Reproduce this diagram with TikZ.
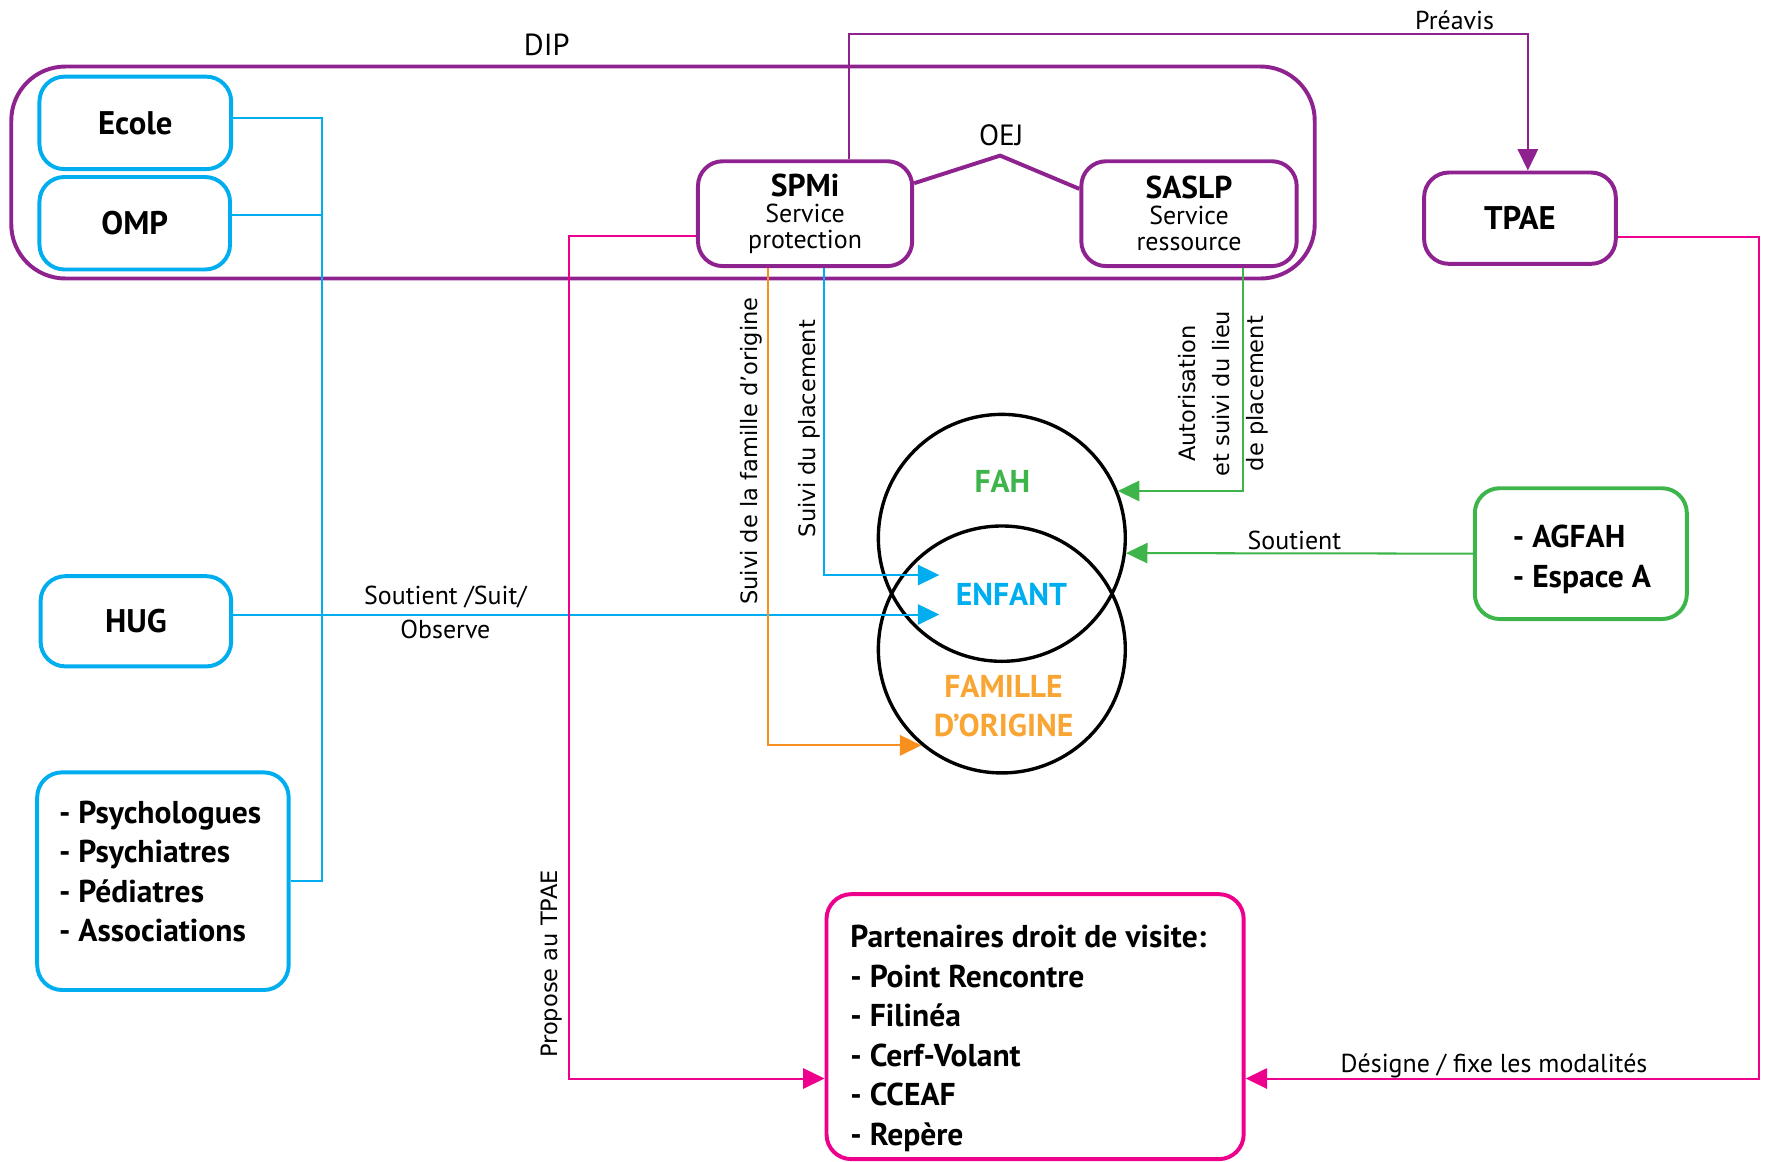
\documentclass[tikz,border=0pt]{standalone}
\usepackage{fontspec}
\setmainfont{PT Sans}
\newfontfamily\rotfont{DejaVu Sans}
\usetikzlibrary{arrows.meta}
\definecolor{dipblue}{HTML}{00AEEF}
\definecolor{dippurple}{HTML}{8E2390}
\definecolor{dippink}{HTML}{EC008C}
\definecolor{dipgreen}{HTML}{3DB54A}
\definecolor{diporange}{HTML}{F7901E}
\definecolor{famorange}{HTML}{F9A533}
\tikzstyle{box}=[draw, line width=3.5pt, rounded corners=22pt, inner sep=0pt, align=center, font=\fontsize{29}{34}\selectfont\bfseries]
\tikzstyle{service box}=[box, draw=dippurple, font=\fontsize{23}{23}\selectfont]
\tikzstyle{list}=[inner sep=0pt, align=left, font=\fontsize{28}{35}\selectfont\bfseries]
\tikzstyle{circle set}=[draw, circle, line width=3pt, minimum size=219pt, inner sep=0pt]
\tikzstyle{set name}=[font=\fontsize{28}{35}\selectfont\bfseries, align=center]
\tikzstyle{wire}=[line width=1.8pt]
\tikzstyle{link}=[wire, -{Triangle[length=19pt,width=18pt]}]
\tikzstyle{tag}=[font=\fontsize{23}{30}\selectfont, inner sep=0pt, align=center]
\tikzstyle{side tag}=[font=\rotfont\fontsize{20}{30}\selectfont, rotate=90, inner sep=0pt, align=center]

\begin{document}
\begin{tikzpicture}[x=1pt, y=-1pt]
      \useasboundingbox (0,0) rectangle (1568,1030);
      % DIP frame
      \node[draw=dippurple, line width=3.5pt, rounded corners=48pt, minimum width=1156pt, minimum height=188pt] (dip) at (588,153) {};
      \node[tag, font=\fontsize{27}{30}\selectfont] (diptag) at (485,40) {DIP};
      % boxes
      \node[box, draw=dipblue, minimum width=170pt, minimum height=82pt] (ecole) at (120,109) {Ecole};
      \node[box, draw=dipblue, minimum width=169pt, minimum height=82pt] (omp) at (119.5,198) {OMP};
      \node[box, draw=dipblue, minimum width=169pt, minimum height=80pt] (hug) at (120.5,551) {HUG};
      \node[box, draw=dipblue, minimum width=223pt, minimum height=193pt] (psy) at (144.5,781.5) {};
      \node[list] (psylist) at (142,773) {- Psychologues\\- Psychiatres\\- Pédiatres\\- Associations};
      \node[service box, minimum width=190pt, minimum height=93pt] (spmi) at (714,189.5)
        {\textbf{\fontsize{28}{28}\selectfont SPMi}\\Service\\protection};
      \node[service box, minimum width=191pt, minimum height=93pt] (saslp) at (1054.5,189.5)
        {\textbf{\fontsize{28}{28}\selectfont SASLP}\\Service\\ressource};
      \node[box, draw=dippurple, minimum width=170pt, minimum height=81pt] (tpae) at (1348,193.5) {TPAE};
      \node[box, draw=dipgreen, minimum width=188pt, minimum height=116pt] (agfah) at (1402,491) {};
      \node[list] (agfahlist) at (1403,496) {- AGFAH\\- Espace A};
      \node[box, draw=dippink, minimum width=370pt, minimum height=235pt] (part) at (918,910.5) {};
      \node[list] (partlist) at (912,921) {Partenaires droit de visite:\\- Point Rencontre\\- Filinéa\\- Cerf-Volant\\- CCEAF\\- Repère};
      % sets
      \node[circle set] (fah) at (888.5,477) {};
      \node[circle set] (famille) at (888.5,576) {};
      \node[set name, text=dipgreen] (fahtag) at (889,427) {FAH};
      \node[set name, text=dipblue] (enfant) at (897,527) {ENFANT};
      \node[set name, text=famorange] (origine) at (890,626) {FAMILLE\\D’ORIGINE};
      \coordinate (suiviin) at (833,510);
      \coordinate (hugin) at (833,545);
      \coordinate (bus) at (286,0);
      \coordinate (oej) at (887,138);
      \coordinate (preavis) at (1000,30);
      \coordinate (propose) at (505,600);
      \coordinate (designe) at (1560,600);
      % OEJ
      \draw[dippurple, line width=3.5pt] ([yshift=27pt]spmi.east) -- (oej) -- ([yshift=22pt]saslp.west);
      \node[tag, font=\fontsize{26}{30}\selectfont] (oejtag) at (888,120) {OEJ};
      % blue links
      \draw[wire, dipblue] ([yshift=4pt]ecole.east) -- ([yshift=4pt]ecole.east -| bus) -- (psy.east -| bus) -- (psy.east);
      \draw[wire, dipblue] ([yshift=7pt]omp.east) -- ([yshift=7pt]omp.east -| bus);
      \draw[link, dipblue] (hug.east |- hugin) -- (hugin);
      \node[tag] (hugtag) at (395,543) {Soutient /Suit/\\Observe};
      \draw[link, dipblue] ([xshift=17pt]spmi.south) |- (suiviin);
      \node[side tag] (placementtag) at (718,380) {Suivi du placement};
      % orange
      \draw[link, diporange] ([xshift=-33pt]spmi.south) |- (famille.230);
      \node[side tag] (familletag) at (666,400) {Suivi de la famille d’origine};
      % green
      \draw[link, dipgreen] ([xshift=47.5pt]saslp.south) |- (fah.22.5);
      \node[side tag] (lieutag) at (1085,349) {Autorisation\\et suivi du lieu\\de placement};
      \draw[link, dipgreen] (agfah.west) -- (fah.-7);
      \node[tag] (soutienttag) at (1148,479) {Soutient};
      % purple
      \draw[link, dippurple] ([xshift=39pt]spmi.north) |- (preavis) -| ([xshift=7pt]tpae.north);
      \node[tag] (preavistag) at (1290,18) {Préavis};
      % pink
      \draw[link, dippink] ([yshift=-20pt]spmi.west) -| (propose) |- ([yshift=-46pt]part.west);
      \node[side tag] (proposetag) at (489,855) {Propose au TPAE};
      \draw[link, dippink] ([yshift=-17pt]tpae.east) -| (designe) |- ([yshift=-46pt]part.east);
      \node[tag] (designetag) at (1325,945) {Désigne / fixe les modalités};
\end{tikzpicture}
\end{document}
